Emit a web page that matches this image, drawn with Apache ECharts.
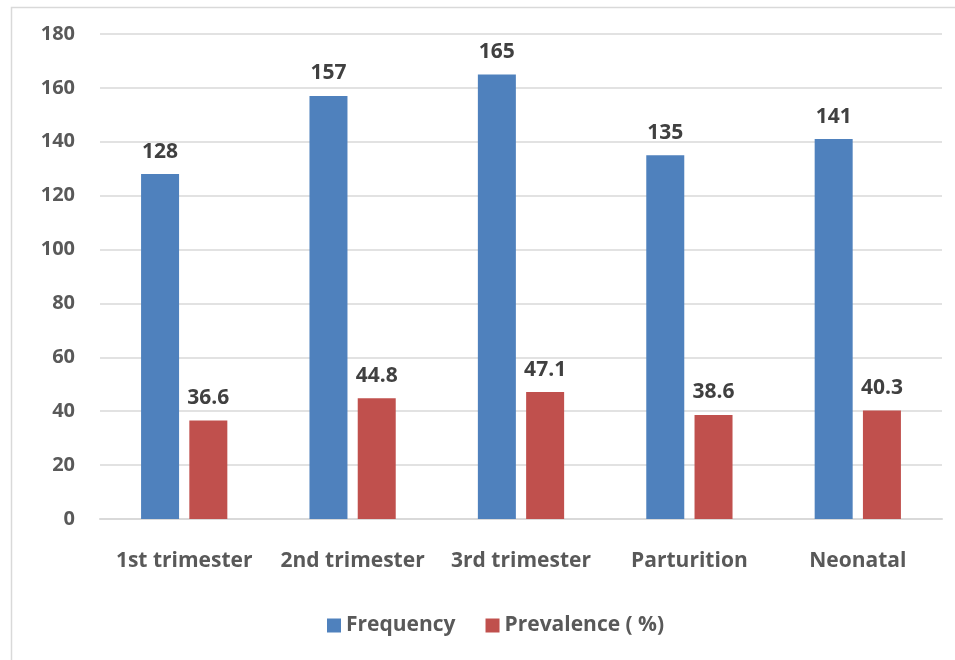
<!DOCTYPE html>
<html><head><meta charset="utf-8">
<script src="https://cdn.jsdelivr.net/npm/echarts@6/dist/echarts.min.js"></script>
<style>html,body{margin:0;padding:0;background:#fff}#c{width:955px;height:660px}</style>
</head><body><div id="c"></div>
<script>
const categories = ['1st trimester', '2nd trimester', '3rd trimester', 'Parturition', 'Neonatal'];
const frequency = [128, 157, 165, 135, 141];
const prevalence = [36.6, 44.8, 47.1, 38.6, 40.3];
const yTicks = { min: 0, max: 180, interval: 20 };

const FONT = '"Open Sans", "Liberation Sans", sans-serif';
const chart = echarts.init(document.getElementById('c'), null, { renderer: 'canvas' });
chart.setOption({
  animation: false,
  backgroundColor: '#fff',
  graphic: [{
    type: 'rect', shape: { x: 11.5, y: 7.5, width: 1200, height: 1200 },
    style: { fill: 'none', stroke: '#d9d9d9', lineWidth: 1.5 }, silent: true
  }],
  grid: { left: 100, right: 13, top: 34, bottom: 141, containLabel: false },
  legend: {
    bottom: 19, left: 322, itemWidth: 14, itemHeight: 14, itemGap: 30,
    icon: 'rect',
    textStyle: { fontFamily: FONT, fontWeight: 'bold', fontSize: 21, color: '#595959' },
    data: ['Frequency', 'Prevalence ( %)']
  },
  xAxis: {
    type: 'category', data: categories,
    axisLine: { lineStyle: { color: '#d9d9d9', width: 2 } },
    axisTick: { show: false },
    axisLabel: { interval: 0, fontFamily: FONT, fontWeight: 'bold', fontSize: 21, color: '#595959', margin: 32 }
  },
  yAxis: {
    type: 'value', min: yTicks.min, max: yTicks.max, interval: yTicks.interval,
    axisLine: { show: false }, axisTick: { show: false },
    splitLine: { lineStyle: { color: '#d9d9d9', width: 1.5 } },
    axisLabel: { fontFamily: FONT, fontWeight: 'bold', fontSize: 20, color: '#595959', margin: 25 }
  },
  series: [
    {
      name: 'Frequency', type: 'bar', data: frequency, barWidth: 38, barGap: '27%',
      itemStyle: { color: '#4f81bd' },
      label: { show: true, position: 'top', distance: 12, fontFamily: FONT, fontWeight: 'bold', fontSize: 21, color: '#404040' }
    },
    {
      name: 'Prevalence ( %)', type: 'bar', data: prevalence, barWidth: 38,
      itemStyle: { color: '#c0504d' },
      label: { show: true, position: 'top', distance: 12, fontFamily: FONT, fontWeight: 'bold', fontSize: 21, color: '#404040' }
    }
  ]
});
</script></body></html>
